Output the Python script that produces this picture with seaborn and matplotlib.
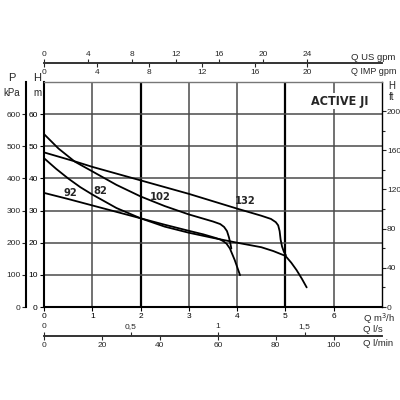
"""
Pump performance curves for the ACTIVE JI series.

Main chart is H (m) against Q (m3/h); the other unit scales
(kPa, ft, US/IMP gpm, l/s, l/min) hang around it as secondary axes.
"""

import matplotlib.pyplot as plt
import pandas as pd
import seaborn as sns


# Curve data: flow Q (m3/h) and head H (m)
q_92 = [0, 0.5, 1.0, 1.5, 2.0, 2.5, 3.0, 3.3, 3.55, 3.65, 3.71, 3.78, 3.85, 3.95, 4.06]
h_92 = [35.5, 33.6, 31.6, 29.6, 27.6, 25.6, 23.7, 22.6, 21.5, 21.0, 20.5, 19.7, 18.2, 14.6, 9.9]

q_82 = [0, 0.25, 0.5, 0.75, 1.0, 1.5, 2.0, 2.5, 3.0, 3.5, 4.0, 4.5, 4.75, 5.0, 5.12, 5.23, 5.34, 5.44]
h_82 = [46.3, 43.0, 40.0, 37.3, 35.0, 30.8, 27.6, 25.0, 23.1, 21.5, 20.0, 18.6, 17.4, 15.9, 13.8, 11.5, 8.8, 6.1]

q_102 = [0, 0.3, 0.64, 1.0, 1.5, 2.0, 2.5, 3.0, 3.5, 3.65, 3.73, 3.79, 3.83, 3.86, 3.88]
h_102 = [53.8, 49.3, 45.2, 42.2, 38.0, 34.4, 31.4, 28.8, 26.6, 25.8, 24.9, 23.6, 21.7, 19.7, 18.2]

q_132 = [0, 0.64, 1.0, 2.0, 3.0, 4.0, 4.5, 4.7, 4.8, 4.85, 4.88, 4.9, 4.93, 4.97, 5.01]
h_132 = [48.1, 45.3, 43.6, 39.4, 35.2, 30.6, 28.4, 27.4, 26.4, 25.4, 23.6, 21.0, 18.8, 17.1, 16.1]

models = ["92", "82", "102", "132"]

# Axis scales
q_ticks = [0, 1, 2, 3, 4, 5, 6]
h_ticks = [0, 10, 20, 30, 40, 50, 60]
kpa_ticks = [0, 100, 200, 300, 400, 500, 600]
ft_ticks = [0, 40, 80, 120, 160, 200]
ft_minor = [20, 60, 100, 140, 180]
us_gpm_ticks = [0, 4, 8, 12, 16, 20, 24]
imp_gpm_ticks = [0, 4, 8, 12, 16, 20]
ls_ticks = [0, 0.5, 1, 1.5]
ls_labels = ["0", "0,5", "1", "1,5"]
lmin_ticks = [0, 20, 40, 60, 80, 100]

# unit conversions from m3/h and m
US_GPM = 0.2271247
IMP_GPM = 0.2727655
M_TO_FT = 3.28084

sns.set_theme(style="white")
plt.rcParams["font.family"] = ["Liberation Sans", "DejaVu Sans"]

curves = pd.concat(
    [
        pd.DataFrame({"q": q_92, "h": h_92, "model": "92"}),
        pd.DataFrame({"q": q_82, "h": h_82, "model": "82"}),
        pd.DataFrame({"q": q_102, "h": h_102, "model": "102"}),
        pd.DataFrame({"q": q_132, "h": h_132, "model": "132"}),
    ],
    ignore_index=True,
)

fig = plt.figure(figsize=(4, 4), dpi=100, facecolor="white")
ax = fig.add_axes([0.11, 0.2325, 0.845, 0.5625])

sns.lineplot(
    data=curves, x="q", y="h", units="model", estimator=None, sort=False,
    color="black", linewidth=1.3, legend=False, ax=ax,
)

ax.set_xlim(0, 7)
ax.set_ylim(0, 70)
ax.set_xticks(q_ticks)
ax.set_yticks(h_ticks)
ax.set_xlabel("")
ax.set_ylabel("")

# grid, with the 2 and 5 verticals heavier
ax.set_axisbelow(True)
ax.grid(True, color="#4a4a4a", linewidth=1.1)
for line, t in zip(ax.get_xgridlines(), q_ticks):
    if t in (2, 5):
        line.set_color("black")
        line.set_linewidth(1.6)

ax.tick_params(axis="both", direction="out", length=3, width=0.8,
               labelsize=6, pad=1.5, bottom=True, left=True, colors="black")
ax.spines["left"].set_linewidth(1.5)
ax.spines["bottom"].set_linewidth(1.5)
ax.spines["top"].set_color("#777777")
ax.spines["top"].set_linewidth(1.0)
ax.spines["right"].set_color("black")
ax.spines["right"].set_linewidth(1.0)
for s in ["left", "bottom"]:
    ax.spines[s].set_color("black")

# right: head in feet
ft = ax.secondary_yaxis("right", functions=(lambda m: m * M_TO_FT, lambda f: f / M_TO_FT))
ft.set_ticks(ft_ticks)
ft.set_ticks(ft_minor, minor=True)
ft.tick_params(which="both", direction="out", width=0.8, labelsize=6, pad=0.5)
ft.tick_params(which="major", length=3)
ft.tick_params(which="minor", length=2.5)
ft.spines["right"].set_visible(False)

# far left: pressure in kPa
kpa = ax.secondary_yaxis(-0.053, functions=(lambda h: h * 10, lambda p: p / 10))
kpa.set_ticks(kpa_ticks)
kpa.tick_params(direction="out", length=3, width=0.8, labelsize=6, pad=1)
kpa.spines["left"].set_linewidth(1.5)
kpa.spines["left"].set_color("black")

# top: US gpm above the line, IMP gpm below it
us = ax.secondary_xaxis(1.084, functions=(lambda q: q / US_GPM, lambda g: g * US_GPM))
us.set_ticks(us_gpm_ticks)
imp = ax.secondary_xaxis(1.084, functions=(lambda q: q / IMP_GPM, lambda g: g * IMP_GPM))
imp.set_alignment("bottom")
imp.set_ticks(imp_gpm_ticks)

# bottom: l/s above the line, l/min below it
ls = ax.secondary_xaxis(-0.129, functions=(lambda q: q / 3.6, lambda v: v * 3.6))
ls.set_alignment("top")
ls.set_ticks(ls_ticks, labels=ls_labels)
lmin = ax.secondary_xaxis(-0.129, functions=(lambda q: q / 0.06, lambda v: v * 0.06))
lmin.set_ticks(lmin_ticks)

for sec in [us, imp, ls, lmin]:
    sec.tick_params(direction="out", length=3, width=0.8, labelsize=6, pad=1)
    for s in sec.spines.values():
        s.set_color("#333333")
        s.set_linewidth(1.2)

# curve names
label_pos = {"92": (0.54, 35.6), "82": (1.16, 36.2), "102": (2.40, 34.1), "132": (4.16, 33.1)}
for name in models:
    x, y = label_pos[name]
    ax.text(x, y, name, ha="center", va="center", fontsize=8, fontweight="bold",
            family="DejaVu Sans", fontstretch="condensed")

ax.text(6.13, 64.0, "ACTIVE JI", ha="center", va="center", fontsize=9,
        fontweight="bold", family="DejaVu Sans", fontstretch="condensed",
        bbox=dict(facecolor="white", edgecolor="none", pad=1))

# unit captions
fig.text(0.878, 0.8575, "Q US gpm", fontsize=6.8, ha="left", va="center")
fig.text(0.878, 0.82, "Q IMP gpm", fontsize=6.5, ha="left", va="center")
fig.text(0.98, 0.785, "H", fontsize=7, ha="center", va="center")
fig.text(0.98, 0.7575, "ft", fontsize=7, ha="center", va="center")
fig.text(0.03, 0.805, "P", fontsize=8, ha="center", va="center")
fig.text(0.03, 0.7675, "kPa", fontsize=7, ha="center", va="center")
fig.text(0.0925, 0.805, "H", fontsize=8, ha="center", va="center")
fig.text(0.0925, 0.7675, "m", fontsize=7, ha="center", va="center")
fig.text(0.9075, 0.2025, "Q m$^3$/h", fontsize=6.8, ha="left", va="center")
fig.text(0.9075, 0.175, "Q l/s", fontsize=6.8, ha="left", va="center")
fig.text(0.9075, 0.14, "Q l/min", fontsize=6.8, ha="left", va="center")

fig.savefig("out.png", dpi=100, facecolor="white")
plt.close(fig)
